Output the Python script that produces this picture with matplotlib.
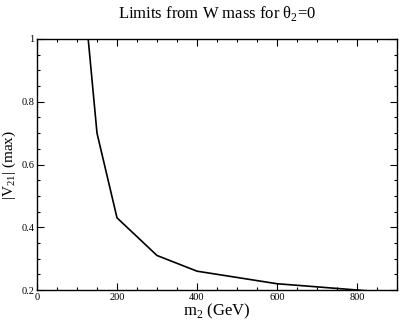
import numpy as np
import matplotlib
matplotlib.use("Agg")
import matplotlib.pyplot as plt
from matplotlib.ticker import MultipleLocator

# data
m2 = [128, 150, 200, 300, 400, 600, 800, 900]
v21_max = [1.0, 0.70, 0.43, 0.31, 0.26, 0.22, 0.20, 0.19]

plt.rcParams["font.family"] = ["Liberation Serif", "DejaVu Serif"]
plt.rcParams["mathtext.fontset"] = "custom"
plt.rcParams["mathtext.rm"] = "Liberation Serif"

fig = plt.figure(figsize=(3.99, 3.22), dpi=100)
ax = fig.add_axes([37 / 399, 32 / 322, 360 / 399, 251 / 322])

ax.plot(m2, v21_max, color="black", lw=1.2)

ax.set_xlim(0, 900)
ax.set_ylim(0.2, 1.0)
ax.xaxis.set_major_locator(MultipleLocator(200))
ax.xaxis.set_minor_locator(MultipleLocator(50))
ax.yaxis.set_minor_locator(MultipleLocator(0.05))
ax.set_yticks([0.2, 0.4, 0.6, 0.8, 1.0])
ax.set_yticklabels(["0.2", "0.4", "0.6", "0.8", "1"])

ax.tick_params(which="both", direction="in", top=True, right=True,
               labelsize=7.5, pad=2, width=0.8)
ax.tick_params(which="major", length=5)
ax.tick_params(which="minor", length=2.5)
for sp in ax.spines.values():
    sp.set_linewidth(1.0)

ax.set_xlabel(r"m$_\mathrm{2}$ (GeV)", fontsize=12, labelpad=0)
ax.set_ylabel(r"|V$_\mathrm{21}$| (max)", fontsize=11, labelpad=2)
ax.set_title(r"Limits from W mass for θ$_\mathrm{2}$=0", fontsize=12, pad=15)

fig.savefig("out.png", dpi=100)
